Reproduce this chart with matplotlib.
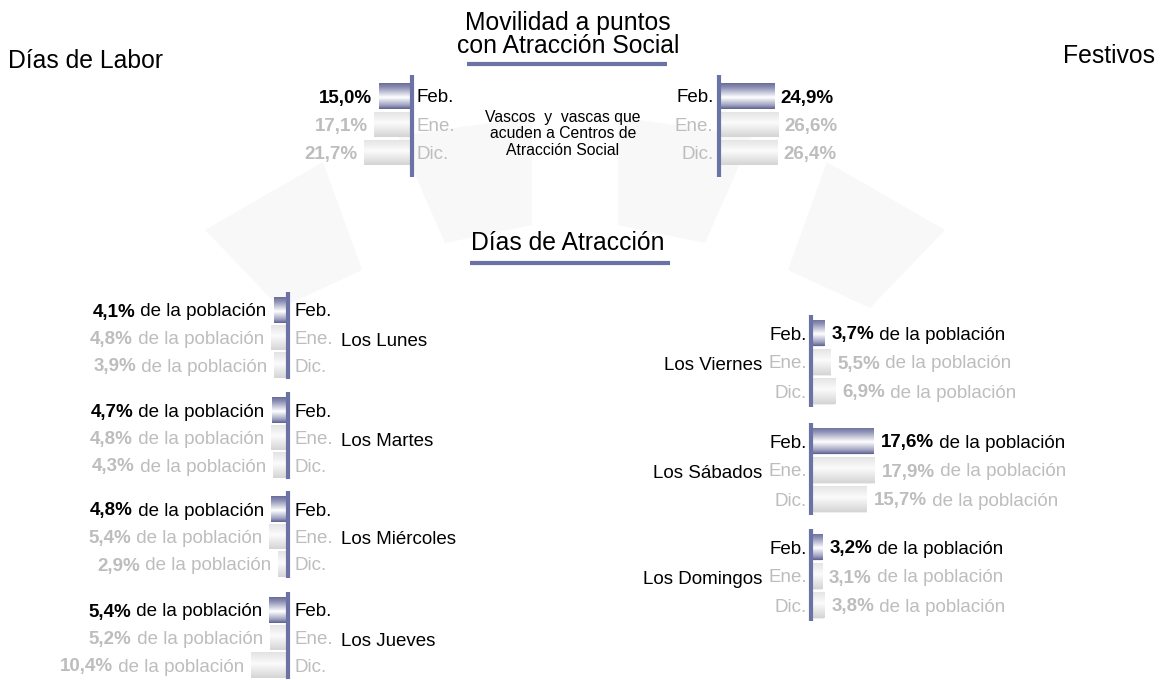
import numpy as np
import matplotlib
matplotlib.use("Agg")
import matplotlib.pyplot as plt
from matplotlib.colors import LinearSegmentedColormap
from matplotlib.patches import Polygon

plt.rcParams['font.family'] = ['Liberation Sans', 'DejaVu Sans']

# ---------------- data ----------------
months = ['Feb.', 'Ene.', 'Dic.']
labor_atraccion = [15.0, 17.1, 21.7]
festivos_atraccion = [24.9, 26.6, 26.4]

labor_days = ['Los Lunes', 'Los Martes', 'Los Miércoles', 'Los Jueves']
lunes = [4.1, 4.8, 3.9]
martes = [4.7, 4.8, 4.3]
miercoles = [4.8, 5.4, 2.9]
jueves = [5.4, 5.2, 10.4]

festivo_days = ['Los Viernes', 'Los Sábados', 'Los Domingos']
viernes = [3.7, 5.5, 6.9]
sabados = [17.6, 17.9, 15.7]
domingos = [3.2, 3.1, 3.8]

suffix = ' de la población'

# ---------------- style ----------------
W, H = 1163, 680
LINE = '#6a72a6'
GREY = '#bdbdbd'
feb_cmap = LinearSegmentedColormap.from_list(
    'feb', [(0, '#686c98'), (0.18, '#9093b6'), (0.55, '#ffffff'), (0.85, '#a0a3c1'), (1, '#5c608e')])
grey_cmap = LinearSegmentedColormap.from_list(
    'grey', [(0, '#e2e2e2'), (0.45, '#fbfbfb'), (1, '#d4d4d4')])

fig = plt.figure(figsize=(W / 100, H / 100), dpi=100)
bg = fig.add_axes([0, 0, 1, 1])
bg.set_xlim(0, W)
bg.set_ylim(H, 0)
bg.axis('off')

# faint background petals (decoration), mirrored about the centre
left_petals = [
    [(205, 230), (323, 162), (362, 270), (280, 308)],
    [(398, 136), (532, 117), (532, 225), (445, 243)],
]
for pts in left_petals:
    bg.add_patch(Polygon(pts, closed=True, fc='#f8f8f8', ec='none', zorder=0))
    bg.add_patch(Polygon([(1150 - x, y) for x, y in pts], closed=True, fc='#f8f8f8', ec='none', zorder=0))

# titles
TS = 17.8
bg.text(568, 30, 'Movilidad a puntos', ha='center', va='baseline', fontsize=TS)
bg.text(568, 53, 'con Atracción Social', ha='center', va='baseline', fontsize=TS)
bg.plot([467, 667], [64, 64], color=LINE, lw=3, solid_capstyle='butt')
bg.text(8, 68, 'Días de Labor', ha='left', va='baseline', fontsize=TS)
bg.text(1155, 63, 'Festivos', ha='right', va='baseline', fontsize=TS)
bg.text(568, 250, 'Días de Atracción', ha='center', va='baseline', fontsize=TS)
bg.plot([470, 670], [263, 263], color=LINE, lw=3, solid_capstyle='butt')
bg.text(563, 155, 'Vascos  y  vascas que\nacuden a Centros de\nAtracción Social',
        ha='center', va='baseline', fontsize=11.3, linespacing=1.13)

FS = 13.5


def px_axes(x0, y0, x1, y1):
    return fig.add_axes([x0 / W, 1 - y1 / H, (x1 - x0) / W, (y1 - y0) / H])


def fmt(v):
    return f'{v:.1f}'.replace('.', ',') + '%'


def group(axis_x, feb_y, spacing, vals, side, scale, top, bot, bar_h,
          month_gap, val_gap, with_suffix, day=None, day_x=None, day_ha=None):
    ax = px_axes(axis_x - 320, top, axis_x + 320, bot)
    ax.set_xlim(-320 / scale, 320 / scale)
    ylim = ((bot - feb_y) / spacing, (top - feb_y) / spacing)
    ax.set_ylim(*ylim)
    ax.axis('off')
    ax.patch.set_alpha(0)
    sign = -1 if side == 'left' else 1
    rows = np.arange(len(vals))
    bars = ax.barh(rows, [sign * v for v in vals], height=bar_h / spacing,
                   color='#eeeeee', edgecolor='none', zorder=1)
    grad = np.linspace(0, 1, 256).reshape(-1, 1)
    for i, p in enumerate(bars.patches):
        x0, x1 = p.get_x(), p.get_x() + p.get_width()
        y0, y1 = p.get_y(), p.get_y() + p.get_height()
        im = ax.imshow(grad, extent=(min(x0, x1), max(x0, x1), y1, y0), origin='upper',
                       aspect='auto', cmap=feb_cmap if i == 0 else grey_cmap, zorder=2)
        im.set_clip_path(p)
    ax.set_xlim(-320 / scale, 320 / scale)
    ax.set_ylim(*ylim)
    ax.axvline(0, color=LINE, lw=3, zorder=3)
    boff = 6.5 / spacing
    for i, (m, v) in enumerate(zip(months, vals)):
        col = 'black' if i == 0 else GREY
        # month label on the opposite side of the bars
        ax.text(-sign * month_gap / scale, i + boff, m, ha='left' if side == 'left' else 'right',
                va='baseline', fontsize=FS, color=col)
        xv = sign * (v + val_gap / scale)
        if side == 'left':
            if with_suffix:
                t1 = ax.text(xv, i + boff, suffix, ha='right', va='baseline', fontsize=FS, color=col)
                ax.annotate(fmt(v), xy=(0, 0), xycoords=t1, ha='right', va='bottom',
                            fontsize=FS, color=col, fontweight='bold')
            else:
                ax.text(xv, i + boff, fmt(v), ha='right', va='baseline', fontsize=FS,
                        color=col, fontweight='bold')
        else:
            t1 = ax.text(xv, i + boff, fmt(v), ha='left', va='baseline', fontsize=FS,
                         color=col, fontweight='bold')
            if with_suffix:
                ax.annotate(suffix, xy=(1, 0), xycoords=t1, ha='left', va='bottom',
                            fontsize=FS, color=col)
    if day is not None:
        bg.text(day_x, feb_y + spacing + 8, day, ha=day_ha, va='baseline', fontsize=FS)
    return ax


# top groups
group(411.5, 96, 28.3, labor_atraccion, 'left', 2.2, 75, 177, 25.5, 5.5, 6, False)
group(719, 96, 28.3, festivos_atraccion, 'right', 2.22, 75, 177, 25.5, 5.5, 6, False)

# working days
labor_series = [lunes, martes, miercoles, jueves]
labor_feb_y = [310, 410, 509, 610]
for d, s, fy in zip(labor_days, labor_series, labor_feb_y):
    group(288.5, fy, 27.5, s, 'left', 3.6, fy - 18, fy + 69, 25.5, 6.5, 7, True,
          day=d, day_x=341, day_ha='left')

# holidays
fest_series = [viernes, sabados, domingos]
fest_feb_y = [333, 441, 547]
for d, s, fy in zip(festivo_days, fest_series, fest_feb_y):
    group(811, fy, 29, s, 'right', 3.55, fy - 18, fy + 74, 27, 4, 7, True,
          day=d, day_x=762, day_ha='right')

fig.savefig('out.png', dpi=100)
